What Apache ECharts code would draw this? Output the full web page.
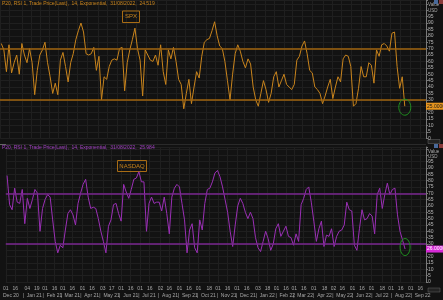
<!DOCTYPE html>
<html><head><meta charset="utf-8">
<script src="https://cdn.jsdelivr.net/npm/echarts@6/dist/echarts.min.js"></script>
<style>html,body{margin:0;padding:0;background:#121212;}#c{width:443px;height:300px;}</style>
</head><body><div id="c"></div>
<script>
// ---- data ----
const axisStart = '2020-12-01';
const axisEnd = '2022-09-25';
const sampleStart = '2020-12-03';
const sampleStepDays = 4;
const spxRsi = [74,69,52,73,51,59,65,50,74,65,59,70,59,34,53,65,69,75,59,48,
35,43,34,61,67,56,44,59,66,77,84,90,83,66,65,66,71,53,64,30,
48,46,56,61,62,61,70,71,37,59,69,77,86,70,61,33,69,65,61,60,
65,57,73,52,42,69,62,71,60,46,42,23,35,46,27,40,52,47,64,75,
77,78,84,91,80,72,
70,60,45,30,50,66,73,68,60,55,62,58,40,30,25,35,45,38,28,35,48,52,40,45,50,42,40,
38,42,61,64,72,76,66,53,51,40,38,35,27,33,40,46,31,40,48,44,62,65,64,56,25,27,39,56,48,48,59,57,43,69,64,73,74,72,68,82,83,56,39,48,25];
const nasdaqRsi = [84,61,57,74,63,62,73,46,66,58,65,73,70,40,58,65,69,67,49,32,
23,29,27,41,54,57,53,45,62,70,77,81,67,58,59,58,50,40,32,23,
44,49,61,62,54,48,77,71,66,73,81,82,87,79,79,40,62,67,62,63,
63,56,67,54,38,67,74,77,75,62,49,23,41,46,27,23,49,41,62,73,
74,79,86,88,83,75,
65,55,40,28,45,60,66,62,55,50,55,50,35,27,24,32,40,34,25,30,42,46,36,40,44,36,35,
29,38,32,61,66,73,75,63,48,32,42,48,28,37,36,42,28,36,40,41,45,63,57,56,29,25,42,57,49,50,54,52,38,69,74,58,69,78,69,73,74,53,40,33,26];
const levels = [70, 30];
const monthLabels = ['Dec 20','Jan 21','Feb 21','Mar 21','Apr 21','May 21','Jun 21','Jul 21','Aug 21','Sep 21','Oct 21','Nov 21','Dec 21','Jan 22','Feb 22','Mar 22','Apr 22','May 22','Jun 22','Jul 22','Aug 22','Sep 22'];
const holidays = ['2021-01-01','2021-01-18','2022-01-17'];
const spxTitle = 'P20, RSI 1, Trade Price(Last),  14, Exponential,  31/08/2022,  24.519';
const ndxTitle = 'P20, RSI 1, Trade Price(Last),  14, Exponential,  31/08/2022,  25.984';
const spxName = 'SPX';
const ndxName = 'NASDAQ';

// ---- styles ----
const BG = '#121212', GRID = '#1f1f1f';
const ORANGE = '#c9841c', ORANGE_LVL = '#a0640f';
const PURPLE = '#9a2fb5', PURPLE_LVL = '#7a2790';
const GREEN = '#1f8f1f';
const FONT = 'Liberation Sans';

// ---- categories ----
const DAY = 86400000;
const ymd = t => new Date(t).toISOString().slice(0,10);
const t0 = Date.parse(axisStart+'T00:00:00Z'), t1 = Date.parse(axisEnd+'T00:00:00Z');
const days = [];
for (let t=t0; t<=t1; t+=DAY) days.push(ymd(t));
const sT0 = Date.parse(sampleStart+'T00:00:00Z');
const sampleDates = spxRsi.map((_,i)=>ymd(sT0+i*sampleStepDays*DAY));
const hol = new Set(holidays);
const dayTicks = new Set();
const monthStart = {};
let mi = 0;
days.forEach(d => { if (d.slice(8)==='01') { monthStart[d] = monthLabels[mi++]; } });
for (let i=0;i<days.length;i++){
  const d = days[i]; const dd = +d.slice(8);
  if (dd===1 || dd===16) {
    let j=i;
    while (j<days.length) {
      const wd = new Date(days[j]+'T00:00:00Z').getUTCDay();
      if (wd!==0 && wd!==6 && !hol.has(days[j])) break;
      j++;
    }
    if (j<days.length) dayTicks.add(days[j]);
  }
}
if (!monthStart[days[0]]) monthStart[days[0]] = monthLabels[0];

const chart = echarts.init(document.getElementById('c'), null, {renderer:'canvas'});
const gridL = 0, gridR = 17;
const xBase = (gi, extra) => Object.assign({
  type:'category', gridIndex: gi, data: days, boundaryGap:false,
  axisLine:{show:false}, axisTick:{show:false},
  axisLabel:{show:false},
  splitLine:{show:true, interval:(i,v)=>dayTicks.has(v), lineStyle:{color:GRID, width:1}}
}, extra||{});
const yBase = (gi, max, extra) => Object.assign({
  type:'value', gridIndex: gi, position:'right', min:0, max:max, interval:5,
  axisLine:{show:true, lineStyle:{color:'#7a7a7a'}},
  axisTick:{show:true, length:2, lineStyle:{color:'#7a7a7a'}},
  axisLabel:{show:true, fontSize:5, color:'#b4b4b4', fontFamily:FONT, margin:2,
    formatter: v => v<=95 ? String(v) : ''},
  splitLine:{show:true, lineStyle:{color:GRID, width:1}}
}, extra||{});
const lvlLine = (color) => ({
  silent:true, symbol:'none', label:{show:false},
  lineStyle:{color:color, width:1.5, type:'solid'},
  data: levels.map(v=>({yAxis:v}))
});

chart.setOption({
  backgroundColor: BG,
  animation:false,
  grid:[
    {left:gridL, right:gridR, top:0, height:138.2},
    {left:gridL, right:gridR, top:147, height:135},
    {left:gridL, right:gridR, top:147, height:135}
  ],
  xAxis:[
    xBase(0),
    xBase(1, {axisLabel:{show:true, interval:(i,v)=>dayTicks.has(v), formatter:v=>v.slice(8),
      fontSize:5, color:'#a8a8a8', fontFamily:FONT, margin:4.5}}),
    xBase(2, {splitLine:{show:false}, axisLabel:{show:true, interval:(i,v)=>!!monthStart[v],
      formatter:v=> (v===days[0] ? '' : '|  ') + monthStart[v],
      align:'left', fontSize:5, color:'#a8a8a8', fontFamily:FONT, margin:11.5}})
  ],
  yAxis:[
    yBase(0, 108),
    yBase(1, 106.5),
    {type:'value', gridIndex:2, show:false, min:0, max:100}
  ],
  series:[
    {type:'line', xAxisIndex:0, yAxisIndex:0, showSymbol:false, symbol:'none',
     lineStyle:{color:ORANGE, width:1}, itemStyle:{color:ORANGE},
     data: spxRsi.map((v,i)=>[sampleDates[i], v]), markLine: lvlLine(ORANGE_LVL), z:3},
    {type:'line', xAxisIndex:1, yAxisIndex:1, showSymbol:false, symbol:'none',
     lineStyle:{color:PURPLE, width:1}, itemStyle:{color:PURPLE},
     data: nasdaqRsi.map((v,i)=>[sampleDates[i], v]), markLine: lvlLine(PURPLE_LVL), z:3}
  ]
});

const last = spxRsi.length-1;
const lastIdx = days.indexOf(sampleDates[last]);
const pS = chart.convertToPixel({xAxisIndex:0, yAxisIndex:0}, [lastIdx, spxRsi[last]]);
const pN = chart.convertToPixel({xAxisIndex:1, yAxisIndex:1}, [lastIdx, nasdaqRsi[last]]);
const W = chart.getWidth();
const txt = (x,y,s,color,size,extra) => Object.assign({type:'text', x:x, y:y, silent:true,
  style:{text:s, fill:color, font:size+'px "'+FONT+'"', textVerticalAlign:'middle'}}, extra||{});
const valueBox = (y, fill, val, tcolor) => [
  {type:'rect', shape:{x:W-gridR, y:y-3.5, width:gridR, height:7}, style:{fill:fill}, silent:true, z:10},
  txt(W-gridR+1, y, val.toFixed(4), tcolor, 5, {z:11})
];
chart.setOption({graphic:[
  txt(2, 3.5, spxTitle, ORANGE, 5),
  txt(2, 147.5, ndxTitle, '#a040c0', 5),
  {type:'rect', shape:{x:122.5, y:11, width:17, height:11.5}, style:{fill:'none', stroke:'#a86c14', lineWidth:1}, silent:true},
  txt(131, 16.8, spxName, ORANGE, 6, {style:{text:spxName, fill:ORANGE, font:'6px "'+FONT+'"', textAlign:'center', textVerticalAlign:'middle'}}),
  {type:'rect', shape:{x:117.5, y:160.5, width:29, height:11}, style:{fill:'none', stroke:'#a86c14', lineWidth:1}, silent:true},
  txt(132, 166, ndxName, ORANGE, 6, {style:{text:ndxName, fill:ORANGE, font:'6px "'+FONT+'"', textAlign:'center', textVerticalAlign:'middle'}}),
  {type:'ellipse', shape:{cx:pS[0], cy:pS[1]+1, rx:6, ry:8}, style:{fill:'none', stroke:GREEN, lineWidth:1}, silent:true, z:12},
  {type:'ellipse', shape:{cx:pN[0], cy:pN[1]-2, rx:5, ry:8.5}, style:{fill:'none', stroke:GREEN, lineWidth:1}, silent:true, z:12},
  ...valueBox(pS[1], '#e8961e', spxRsi[last], '#1a1a1a'),
  ...valueBox(pN[1], '#d62ad6', nasdaqRsi[last], '#ffffff'),
  txt(428, 5, 'Value', '#a8a8a8', 4.5),
  txt(428, 11, 'USD', '#a8a8a8', 4.5),
  txt(428, 152, 'Value', '#a8a8a8', 4.5),
  txt(428, 157, 'USD', '#a8a8a8', 4.5),
  {type:'line', shape:{x1:0, y1:144.5, x2:W-gridR, y2:144.5}, style:{stroke:'#2a2a2a', lineWidth:1}, silent:true},
  {type:'line', shape:{x1:0, y1:144.5, x2:6, y2:144.5}, style:{stroke:'#666', lineWidth:1}, silent:true},
  {type:'rect', shape:{x:428, y:139.5, width:12, height:4}, style:{fill:'#222', stroke:'#666', lineWidth:0.5}, silent:true},
  {type:'rect', shape:{x:428, y:288, width:12, height:4}, style:{fill:'#222', stroke:'#666', lineWidth:0.5}, silent:true},
  {type:'rect', shape:{x:434, y:0, width:4, height:4}, style:{fill:'#4a6a9a'}, silent:true},
  {type:'rect', shape:{x:439, y:0, width:4, height:4}, style:{fill:'#8a3a3a'}, silent:true},
  {type:'rect', shape:{x:434, y:144, width:4, height:4}, style:{fill:'#4a6a9a'}, silent:true},
  {type:'rect', shape:{x:439, y:144, width:4, height:4}, style:{fill:'#8a3a3a'}, silent:true}
]});
</script></body></html>
